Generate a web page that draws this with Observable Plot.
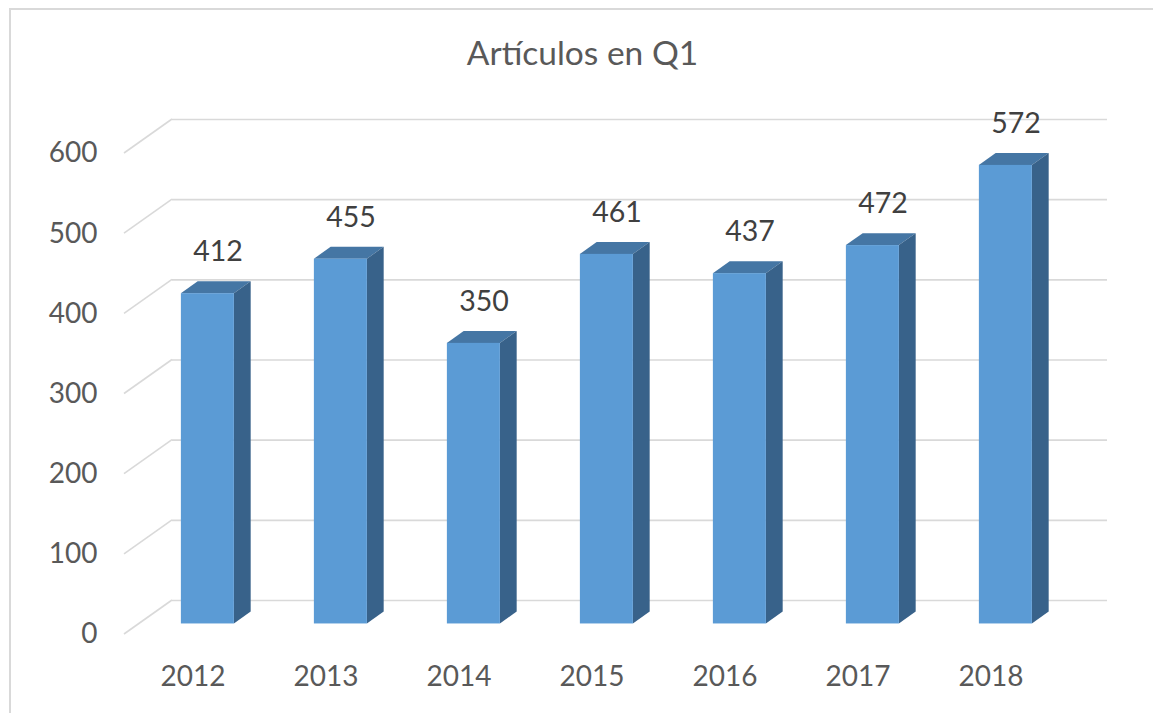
<!DOCTYPE html>
<html><head><meta charset="utf-8">
<script src="https://cdn.jsdelivr.net/npm/d3@7"></script>
<script src="https://cdn.jsdelivr.net/npm/@observablehq/plot@0.6"></script>
<style>
html,body{margin:0;padding:0;background:#fff;}
#frame{position:absolute;left:9px;top:8px;width:1150px;height:710px;border:2px solid #d9d9d9;box-sizing:border-box;}
#title{position:absolute;left:0;width:1165px;top:32px;line-height:40px;text-align:center;font-family:Lato,sans-serif;font-size:33.5px;color:#595959;}
#chart{position:absolute;left:0;top:0;}
</style></head>
<body>
<div id="frame"></div>
<div id="title">Artículos en Q1</div>
<div id="chart"></div>
<script>
const years = ["2012","2013","2014","2015","2016","2017","2018"];
const values = [412,455,350,461,437,472,572];
const yTicks = [0,100,200,300,400,500,600];

const data = years.map((year, i) => ({year, value: values[i]}));

const floorDepth = [48, -34];
const barNear = 0.31, barFar = 0.66;
const barInset = 40;
const colors = {front:"#5b9bd5", top:"#4576a4", side:"#38628a", grid:"#d9d9d9", label:"#404040"};

const nearDx = floorDepth[0]*barNear, nearDy = floorDepth[1]*barNear;
const sideDx = floorDepth[0]*(barFar-barNear), sideDy = floorDepth[1]*(barFar-barNear);

function diagonals(index, scales, values, dimensions) {
  const g = d3.create("svg:g");
  const y = scales.y;
  const x0 = dimensions.marginLeft;
  for (const t of yTicks) {
    g.append("line")
      .attr("x1", x0).attr("y1", y(t))
      .attr("x2", x0 + floorDepth[0]).attr("y2", y(t) + floorDepth[1])
      .attr("stroke", colors.grid).attr("stroke-width", 1.6);
  }
  return g.node();
}

function barFaces(index, scales) {
  const g = d3.create("svg:g");
  const x = scales.x, y = scales.y;
  const bw = x.bandwidth ? x.bandwidth() : (x(years[1]) - x(years[0]));
  for (const d of data) {
    const left = x(d.year) + barInset + nearDx;
    const right = x(d.year) + bw - barInset + nearDx;
    const top = y(d.value) + nearDy, bottom = y(0) + nearDy;
    g.append("polygon")
      .attr("points", [[left, top], [right, top], [right + sideDx, top + sideDy], [left + sideDx, top + sideDy]].map(p => p.join(",")).join(" "))
      .attr("fill", colors.top);
    g.append("polygon")
      .attr("points", [[right, top], [right + sideDx, top + sideDy], [right + sideDx, bottom + sideDy], [right, bottom]].map(p => p.join(",")).join(" "))
      .attr("fill", colors.side);
  }
  return g.node();
}

const chart = Plot.plot({
  width: 1153,
  height: 713,
  marginLeft: 124,
  marginRight: 94,
  marginTop: 153,
  marginBottom: 79,
  style: {fontFamily: "Lato, sans-serif", fontSize: "28px", color: "#595959", background: "transparent", overflow: "visible"},
  x: {domain: years, padding: 0, tickSize: 0, tickPadding: 32, label: null},
  y: {domain: [0, 600], ticks: yTicks, tickSize: 0, tickPadding: 27, label: null},
  marks: [
    Plot.ruleY(yTicks, {dx: floorDepth[0], dy: floorDepth[1], stroke: colors.grid, strokeWidth: 1.6}),
    diagonals,
    barFaces,
    Plot.barY(data, {x: "year", y: "value", fill: colors.front, insetLeft: barInset, insetRight: barInset, dx: nearDx, dy: nearDy}),
    Plot.text(data, {x: "year", y: "value", text: d => String(d.value), dx: 25, dy: -52, fill: colors.label, fontSize: 28.5})
  ]
});
document.getElementById("chart").appendChild(chart);
</script>
</body></html>
